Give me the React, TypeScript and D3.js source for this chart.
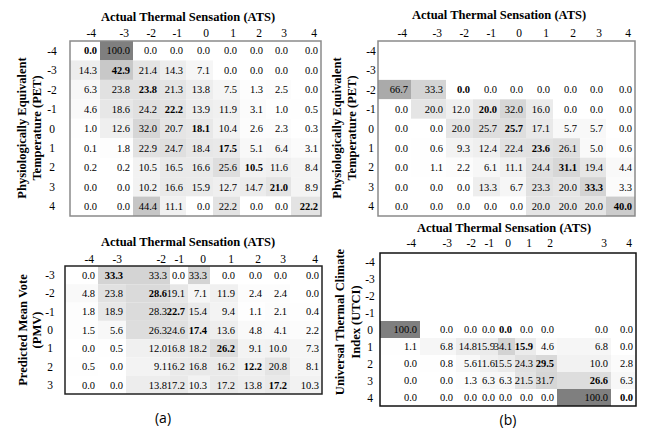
import React from 'react';
import * as d3 from 'd3';

// column categories (actual thermal sensation votes)
const atsLevels = ['-4', '-3', '-2', '-1', '0', '1', '2', '3', '4'];
// row categories per index
const petLevels = ['-4', '-3', '-2', '-1', '0', '1', '2', '3', '4'];
const pmvLevels = ['-3', '-2', '-1', '0', '1', '2', '3'];
const utciLevels = ['-4', '-3', '-2', '-1', '0', '1', '2', '3', '4'];

// (a) PET vs ATS, % per row
const petA = [
  [0.0, 100.0, 0.0, 0.0, 0.0, 0.0, 0.0, 0.0, 0.0],
  [14.3, 42.9, 21.4, 14.3, 7.1, 0.0, 0.0, 0.0, 0.0],
  [6.3, 23.8, 23.8, 21.3, 13.8, 7.5, 1.3, 2.5, 0.0],
  [4.6, 18.6, 24.2, 22.2, 13.9, 11.9, 3.1, 1.0, 0.5],
  [1.0, 12.6, 32.0, 20.7, 18.1, 10.4, 2.6, 2.3, 0.3],
  [0.1, 1.8, 22.9, 24.7, 18.4, 17.5, 5.1, 6.4, 3.1],
  [0.2, 0.2, 10.5, 16.5, 16.6, 25.6, 10.5, 11.6, 8.4],
  [0.0, 0.0, 10.2, 16.6, 15.9, 12.7, 14.7, 21.0, 8.9],
  [0.0, 0.0, 44.4, 11.1, 0.0, 22.2, 0.0, 0.0, 22.2],
];

// (a) PMV vs ATS
const pmvA = [
  [0.0, 33.3, 33.3, 0.0, 33.3, 0.0, 0.0, 0.0, 0.0],
  [4.8, 23.8, 28.6, 19.1, 7.1, 11.9, 2.4, 2.4, 0.0],
  [1.8, 18.9, 28.3, 22.7, 15.4, 9.4, 1.1, 2.1, 0.4],
  [1.5, 5.6, 26.3, 24.6, 17.4, 13.6, 4.8, 4.1, 2.2],
  [0.0, 0.5, 12.0, 16.8, 18.2, 26.2, 9.1, 10.0, 7.3],
  [0.5, 0.0, 9.1, 16.2, 16.8, 16.2, 12.2, 20.8, 8.1],
  [0.0, 0.0, 13.8, 17.2, 10.3, 17.2, 13.8, 17.2, 10.3],
];

// (b) PET vs ATS (no votes in the two coldest classes)
const petB = [
  null,
  null,
  [66.7, 33.3, 0.0, 0.0, 0.0, 0.0, 0.0, 0.0, 0.0],
  [0.0, 20.0, 12.0, 20.0, 32.0, 16.0, 0.0, 0.0, 0.0],
  [0.0, 0.0, 20.0, 25.7, 25.7, 17.1, 5.7, 5.7, 0.0],
  [0.0, 0.6, 9.3, 12.4, 22.4, 23.6, 26.1, 5.0, 0.6],
  [0.0, 1.1, 2.2, 6.1, 11.1, 24.4, 31.1, 19.4, 4.4],
  [0.0, 0.0, 0.0, 13.3, 6.7, 23.3, 20.0, 33.3, 3.3],
  [0.0, 0.0, 0.0, 0.0, 0.0, 20.0, 20.0, 20.0, 40.0],
];

// (b) UTCI vs ATS
const utciB = [
  null,
  null,
  null,
  null,
  [100.0, 0.0, 0.0, 0.0, 0.0, 0.0, 0.0, 0.0, 0.0],
  [1.1, 6.8, 14.8, 15.9, 34.1, 15.9, 4.6, 6.8, 0.0],
  [0.0, 0.8, 5.6, 11.6, 15.5, 24.3, 29.5, 10.0, 2.8],
  [0.0, 0.0, 1.3, 6.3, 6.3, 21.5, 31.7, 26.6, 6.3],
  [0.0, 0.0, 0.0, 0.0, 0.0, 0.0, 0.0, 100.0, 0.0],
];

const serif = '"Liberation Serif", "Times New Roman", serif';
const shade = d3.scaleLinear<string>().domain([0, 100]).range(['#ffffff', '#7f7f7f']);

function Matrix(props) {
  const { left, widths, top, bottom, rows, values, yLabel, p } = props;
  const edges = [left, ...Array.from(d3.cumsum(widths), (w) => left + w)];
  const xLeft = d3.scaleOrdinal<string, number>().domain(atsLevels).range(edges.slice(0, -1));
  const xWidth = d3.scaleOrdinal<string, number>().domain(atsLevels).range(widths);
  const y = d3.scaleBand().domain(rows).range([top, bottom]);
  const right = edges[edges.length - 1];
  const bw = y.bandwidth();

  return (
    <g fontFamily={serif}>
      <text x={p.titleX} y={p.titleY} textAnchor="middle" fontSize={12.5} fontWeight="bold">
        Actual Thermal Sensation (ATS)
      </text>
      {atsLevels.map((c) => (
        <text key={'h' + c} x={xLeft(c) + xWidth(c) - 4} y={p.headY} textAnchor="end" fontSize={11.5}>
          {c}
        </text>
      ))}
      {rows.map((r, i) => (
        <g key={'r' + r}>
          <text x={p.rowX} y={y(r) + bw / 2} dy="0.35em" textAnchor="middle" fontSize={11.5}>
            {r}
          </text>
          {values[i] &&
            values[i].map((v, j) => {
              const c = atsLevels[j];
              return (
                <g key={c}>
                  <rect x={xLeft(c)} y={y(r)} width={xWidth(c)} height={bw} fill={shade(v)} />
                  <text
                    x={xLeft(c) + xWidth(c) - 3}
                    y={y(r) + bw / 2}
                    dy="0.35em"
                    textAnchor="end"
                    fontSize={10.5}
                    fontWeight={c === r ? 'bold' : 'normal'}
                  >
                    {v.toFixed(1)}
                  </text>
                </g>
              );
            })}
        </g>
      ))}
      <rect x={left} y={top} width={right - left} height={bottom - top} fill="none" stroke={p.border} strokeWidth={1.5} />
      {yLabel.map((line, k) => (
        <text
          key={line}
          transform={`translate(${p.yLabX[k]},${p.yLabY}) rotate(-90)`}
          dy="0.35em"
          textAnchor="middle"
          fontSize={12.5}
          fontWeight="bold"
        >
          {line}
        </text>
      ))}
    </g>
  );
}

export default function App() {
  return (
    <svg width={645} height={435} style={{ position: 'absolute', left: 0, top: 0, background: '#fff' }}>
      <Matrix
        left={70}
        widths={[30, 33, 27, 26, 27, 27, 26, 25, 30]}
        top={41}
        bottom={216}
        rows={petLevels}
        values={petA}
        yLabel={['Physiologically Equivalent', 'Temperature (PET)']}
        p={{ titleX: 188, titleY: 21, headY: 37, rowX: 52, yLabX: [22, 37], yLabY: 128, border: '#8a8a8a' }}
      />
      <Matrix
        left={65}
        widths={[33, 28, 44, 18, 22, 28, 27, 25, 32]}
        top={266}
        bottom={394}
        rows={pmvLevels}
        values={pmvA}
        yLabel={['Predicted Mean Vote', '(PMV)']}
        p={{ titleX: 188, titleY: 246, headY: 263, rowX: 50, yLabX: [23, 37], yLabY: 330, border: '#222' }}
      />
      <Matrix
        left={378}
        widths={[33, 35, 27, 27, 26, 27, 27, 26, 29]}
        top={41}
        bottom={216}
        rows={petLevels}
        values={petB}
        yLabel={['Physiologically Equivalent', 'Temperature (PET)']}
        p={{ titleX: 499, titleY: 19, headY: 37, rowX: 371, yLabX: [337, 352], yLabY: 128, border: '#8a8a8a' }}
      />
      <Matrix
        left={380}
        widths={[40, 36, 24, 18, 17, 21, 21, 54, 25]}
        top={253}
        bottom={406}
        rows={utciLevels}
        values={utciB}
        yLabel={['Universal Thermal Climate', 'Index (UTCI)']}
        p={{ titleX: 504, titleY: 232, headY: 247, rowX: 370, yLabX: [340, 356], yLabY: 322, border: '#111' }}
      />
      <text x={163} y={423} textAnchor="middle" fontFamily='"Open Sans", sans-serif' fontSize={14}>
        (a)
      </text>
      <text x={508} y={425} textAnchor="middle" fontFamily='"Open Sans", sans-serif' fontSize={14}>
        (b)
      </text>
    </svg>
  );
}
